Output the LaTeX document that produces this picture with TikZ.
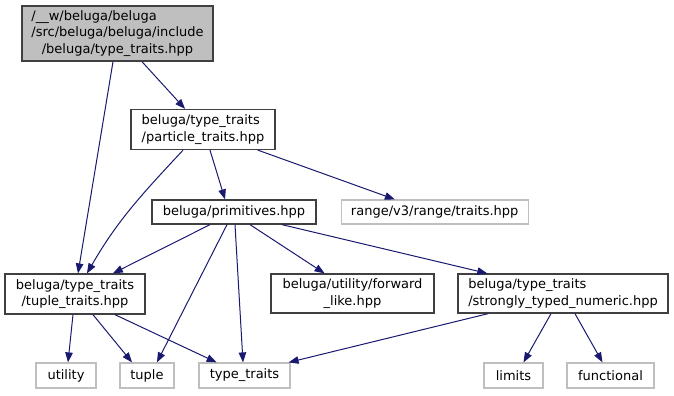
\documentclass[tikz,border=0pt]{standalone}
\usepackage{fontspec}
\setmainfont{DejaVu Sans}
\usepackage{tikz}
\usetikzlibrary{arrows.meta,positioning}
\usepackage{xcolor}
\definecolor{edgeblue}{HTML}{191970}
\definecolor{boxline}{HTML}{404040}
\definecolor{sysline}{HTML}{BFBFBF}
\definecolor{rootfill}{HTML}{BFBFBF}
% left-set lines, last one centred (as graphviz lays out labels)
\newcommand{\glines}[2]{\begin{tabular}{@{}l@{}}#1\\\multicolumn{1}{@{}c@{}}{#2}\end{tabular}}
\tikzset{
  file/.style={draw=boxline,line width=1.2bp,fill=white,inner sep=0pt,
    minimum height=24bp,font=\fontsize{13bp}{16.5bp}\selectfont},
  rootfile/.style={file,fill=rootfill},
  sysfile/.style={file,draw=sysline},
  incl/.style={-{Triangle[length=10bp,width=7.5bp]},draw=edgeblue,line width=1bp}
}
\begin{document}
\begin{tikzpicture}[x=1bp,y=-1bp]
      \useasboundingbox (0,0) rectangle (674,395);
      % headers of the project
      \node[rootfile,minimum width=191bp,minimum height=55bp] (root) at (117.5,33.5)
        {\glines{/\_\_w/beluga/beluga\\/src/beluga/beluga/include}{/beluga/type\_traits.hpp}};
      \node[file,minimum width=144bp,minimum height=40bp] (particle) at (203,129.5)
        {\glines{beluga/type\_traits}{/particle\_traits.hpp}};
      \node[file,minimum width=164bp] (prim) at (234,212) {beluga/primitives.hpp};
      \node[sysfile,minimum width=187bp,right=24bp of prim] (range) {range/v3/range/traits.hpp};
      \node[file,minimum width=140bp,minimum height=40bp] (tuptr) at (75,294)
        {\glines{beluga/type\_traits}{/tuple\_traits.hpp}};
      \node[file,minimum width=163bp,minimum height=39bp] (fwd) at (352.5,293.5)
        {\glines{beluga/utility/forward}{\_like.hpp}};
      \node[file,minimum width=210bp,minimum height=39bp] (strong) at (563,293.5)
        {\glines{beluga/type\_traits}{/strongly\_typed\_numeric.hpp}};
      % standard library
      \node[sysfile,minimum width=60bp,minimum height=25bp] (utility) at (66,375.5) {utility};
      \node[sysfile,minimum width=54bp,minimum height=25bp] (tuple) at (147,375.5) {tuple};
      \node[sysfile,minimum width=91bp,minimum height=25bp] (tt) at (244.5,375.5) {type\_traits};
      \node[sysfile,minimum width=59bp,minimum height=25bp] (limits) at (513.5,375.5) {limits};
      \node[sysfile,minimum width=87bp,minimum height=25bp] (func) at (610.5,375.5) {functional};

      \draw[incl] ([xshift=24.5]root.south) -- ([xshift=-18]particle.north);
      \draw[incl] ([xshift=-4.5]root.south) -- ([xshift=3]tuptr.north);
      \draw[incl] ([xshift=-20]particle.south) to[out=-133,in=60] ([xshift=12]tuptr.north);
      \draw[incl] ([xshift=7]particle.south) -- ([xshift=-9]prim.north);
      \draw[incl] ([xshift=55]particle.south) -- ([xshift=-40]range.north);
      \draw[incl] ([xshift=-24]prim.south) -- ([xshift=38]tuptr.north);
      \draw[incl] ([xshift=-7]prim.south) -- ([xshift=10]tuple.north);
      \draw[incl] ([xshift=1]prim.south) -- ([xshift=-1.5]tt.north);
      \draw[incl] ([xshift=16]prim.south) -- ([xshift=-28]fwd.north);
      \draw[incl] ([xshift=48]prim.south) -- ([xshift=-76]strong.north);
      \draw[incl] ([xshift=-2]tuptr.south) -- ([xshift=2]utility.north);
      \draw[incl] ([xshift=18]tuptr.south) -- ([xshift=-15]tuple.north);
      \draw[incl] ([xshift=40]tuptr.south) -- ([xshift=-28]tt.north);
      \draw[incl] ([xshift=-75]strong.south) -- ([xshift=-2]tt.north east);
      \draw[incl] ([xshift=-12]strong.south) -- ([xshift=10]limits.north);
      \draw[incl] ([xshift=12]strong.south) -- ([xshift=-8]func.north);
    \end{tikzpicture}
\end{document}
